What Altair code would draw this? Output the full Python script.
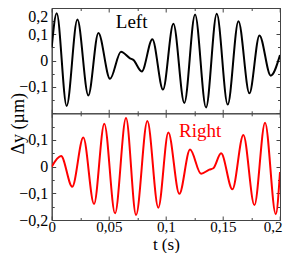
import altair as alt
import pandas as pd

# ---- data ----
T_LEFT = [0.0, 0.0044, 0.0131, 0.0225, 0.0321, 0.0409, 0.0511, 0.0607, 0.0686, 0.0715,
          0.0789, 0.0882, 0.0975, 0.1066, 0.1162, 0.1256, 0.1352, 0.1446, 0.1542, 0.1636,
          0.1732, 0.1820, 0.1919, 0.2]
V_LEFT = [0.05, 0.180, -0.172, 0.156, -0.132, 0.105, -0.069, 0.034, 0.009, 0.003,
          -0.041, 0.081, -0.110, 0.140, -0.161, 0.175, -0.178, 0.178, -0.167, 0.150,
          -0.124, 0.096, -0.057, 0.021]

T_RIGHT = [0.0, 0.0082, 0.0180, 0.0277, 0.0371, 0.0461, 0.0555, 0.0651, 0.0739, 0.0838,
           0.0934, 0.1022, 0.1118, 0.1212, 0.1309, 0.1381, 0.1416, 0.1484, 0.1583, 0.1679,
           0.1776, 0.1869, 0.1963, 0.2]
V_RIGHT = [0.0, 0.040, -0.075, 0.109, -0.140, 0.161, -0.175, 0.182, -0.181, 0.171,
           -0.154, 0.128, -0.102, 0.064, -0.027, -0.011, -0.006, 0.050, -0.085, 0.119,
           -0.144, 0.165, -0.178, -0.020]

X_DOMAIN = [0, 0.2]
Y_DOMAIN = [-0.2, 0.2]
X_TICKS = [0, 0.025, 0.05, 0.075, 0.1, 0.125, 0.15, 0.175, 0.2]
X_LABELS = [0, 0.05, 0.1, 0.15, 0.2]
Y_TICKS = [-0.2, -0.15, -0.1, -0.05, 0, 0.05, 0.1, 0.15, 0.2]
Y_LABELS_TOP = [-0.1, 0, 0.1, 0.2]
Y_LABELS_BOTTOM = [-0.2, -0.1, 0, 0.1]

# ---- layout / style ----
W = 228.3
H = 212
MID = 105.3
FONT = "Liberation Serif"
FRAME = "#444444"
LABEL_EXPR = "replace(format(datum.value, '.2~f'), '.', ',')"
X_MAJOR = "abs(datum.value*20 - round(datum.value*20)) < 0.001"
Y_MAJOR = "abs(datum.value*10 - round(datum.value*10)) < 0.001"

df_left = pd.DataFrame({"t": T_LEFT, "v": V_LEFT})
df_right = pd.DataFrame({"t": T_RIGHT, "v": V_RIGHT})


def xs():
    return alt.Scale(domain=X_DOMAIN, nice=False, zero=False)


def ys(top):
    return alt.Scale(domain=Y_DOMAIN, nice=False, zero=False,
                     range=[MID, 0] if top else [H, MID])


def tick_axis(orient, offset, values, test):
    return alt.Axis(orient=orient, offset=offset, values=values, labels=False,
                    title=None, grid=False, domain=True, domainColor=FRAME,
                    domainWidth=1, ticks=True, tickColor=FRAME, tickWidth=1,
                    tickSize={"condition": {"test": test, "value": 4}, "value": 2.5})


x_label_axis = alt.Axis(orient="bottom", values=X_LABELS, labelExpr=LABEL_EXPR,
                        ticks=False, domain=False, grid=False, labelFont=FONT,
                        labelFontSize=15, labelColor="black", labelBaseline="alphabetic",
                        labelPadding=11, labelFlush=False, labelOverlap=False,
                        labelAlign={"condition": {"test": "datum.value > 0.19",
                                                  "value": "right"},
                                    "value": "center"},
                        labelOffset={"condition": {"test": "datum.value > 0.19",
                                                   "value": 2},
                                     "value": 0},
                        title="t (s)", titleFont=FONT, titleFontSize=17,
                        titleFontWeight="normal", titleColor="black",
                        titleBaseline="alphabetic", titleAlign="center",
                        titleX=W / 2, titleY=29)

y_label_axis_top = alt.Axis(orient="left", values=Y_LABELS_TOP, labelExpr=LABEL_EXPR,
                            ticks=False, domain=False, grid=False, labelFont=FONT,
                            labelFontSize=16, labelColor="black", labelPadding=4,
                            labelFlush=False, labelOverlap=False,
                            labelBaseline={"condition": {"test": "datum.value > 0.15",
                                                         "value": "top"},
                                           "value": "middle"},
                            title="Δy (µm)", titleFont=FONT, titleFontSize=18,
                            titleFontWeight="normal", titleColor="black",
                            titleAngle=270, titleBaseline="bottom", titleAlign="center",
                            titleX=-24, titleY=MID + 10)

y_label_axis_bottom = alt.Axis(orient="left", values=Y_LABELS_BOTTOM, labelExpr=LABEL_EXPR,
                               ticks=False, domain=False, grid=False, labelFont=FONT,
                               labelFontSize=16, labelColor="black", labelPadding=4,
                               labelFlush=False, labelOverlap=False,
                               labelBaseline="middle", title=None)


def line(df, top, xaxis, yaxis, color, visible=True):
    mark = alt.Chart(df).mark_line(interpolate="monotone", color=color, strokeWidth=2,
                                   opacity=1 if visible else 0, clip=True)
    return mark.encode(
        x=alt.X("t:Q", scale=xs(), axis=xaxis),
        y=alt.Y("v:Q", scale=ys(top), axis=yaxis),
    )


layers = [
    line(df_left, True, tick_axis("bottom", -H, X_TICKS, X_MAJOR), y_label_axis_top, "black"),
    line(df_right, False, x_label_axis, y_label_axis_bottom, "#ff0000"),
    line(df_left, True, tick_axis("top", -MID, X_TICKS, X_MAJOR),
         tick_axis("right", -W, Y_TICKS, Y_MAJOR), "black", False),
    line(df_left, True, None, tick_axis("left", -W, Y_TICKS, Y_MAJOR), "black", False),
    line(df_right, False, tick_axis("top", -H, X_TICKS, X_MAJOR),
         tick_axis("right", -W, Y_TICKS, Y_MAJOR), "#ff0000", False),
    line(df_right, False, tick_axis("bottom", -(H - MID), X_TICKS, X_MAJOR),
         tick_axis("left", -W, Y_TICKS, Y_MAJOR), "#ff0000", False),
]

one_row = alt.Data(values=[{}])
left_text = alt.Chart(one_row).mark_text(text="Left", font=FONT, fontSize=19,
                                         color="black", align="center",
                                         baseline="middle").encode(
    x=alt.XDatum(0.070, type="quantitative", scale=xs(), axis=None),
    y=alt.YDatum(0.148, type="quantitative", scale=ys(True), axis=None),
)
right_text = alt.Chart(one_row).mark_text(text="Right", font=FONT, fontSize=19,
                                          color="#ff0000", align="center",
                                          baseline="middle").encode(
    x=alt.XDatum(0.130, type="quantitative", scale=xs(), axis=None),
    y=alt.YDatum(0.132, type="quantitative", scale=ys(False), axis=None),
)

chart = (
    alt.layer(*layers, left_text, right_text)
    .resolve_scale(x="independent", y="independent")
    .resolve_axis(x="independent", y="independent")
    .properties(width=W, height=H,
                autosize=alt.AutoSizeParams(type="none"),
                padding={"left": 43.7, "top": 0, "right": 3, "bottom": 33})
    .configure_view(stroke=FRAME, strokeWidth=1)
)

chart.save("out.html", embed_options={"renderer": "svg", "actions": False})
